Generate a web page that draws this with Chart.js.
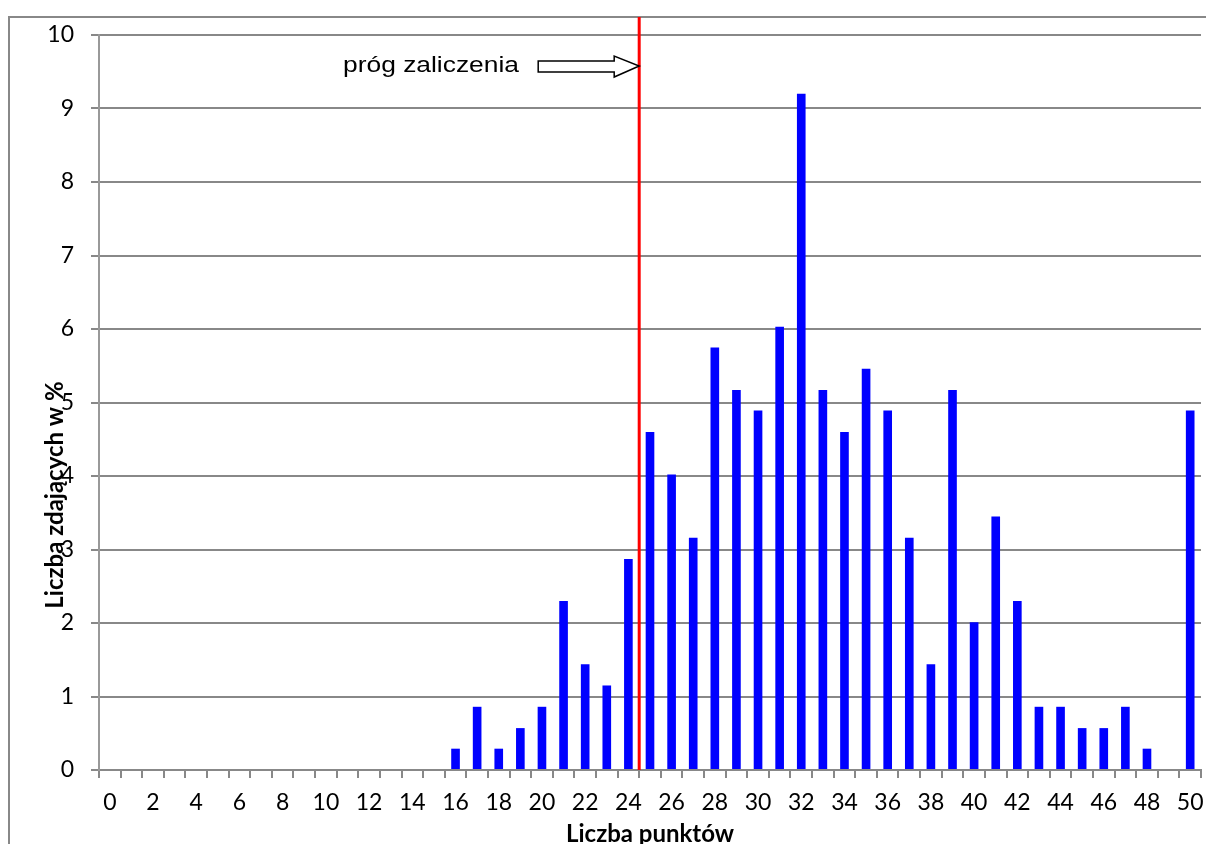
<!DOCTYPE html>
<html>
<head>
<meta charset="utf-8">
<script src="https://cdn.jsdelivr.net/npm/chart.js@4.4.1/dist/chart.umd.min.js"></script>
<style>
  html, body { margin: 0; padding: 0; background: #fff; }
  #wrap { width: 1206px; height: 844px; position: relative; }
</style>
</head>
<body>
<div id="wrap"><canvas id="chart"></canvas></div>
<script>
const scoreLabels = [
  '0', '1', '2', '3', '4', '5', '6', '7', '8', '9',
  '10', '11', '12', '13', '14', '15', '16', '17', '18', '19',
  '20', '21', '22', '23', '24', '25', '26', '27', '28', '29',
  '30', '31', '32', '33', '34', '35', '36', '37', '38', '39',
  '40', '41', '42', '43', '44', '45', '46', '47', '48', '49', '50'
]

const percentValues = [
  0, 0, 0, 0, 0, 0, 0, 0, 0, 0,
  0, 0, 0, 0, 0, 0, 0.29, 0.86, 0.29, 0.57,
  0.86, 2.30, 1.44, 1.15, 2.87, 4.60, 4.02, 3.16, 5.75, 5.17,
  4.89, 6.03, 9.20, 5.17, 4.60, 5.46, 4.89, 3.16, 1.44, 5.17,
  2.01, 3.45, 2.30, 0.86, 0.86, 0.57, 0.57, 0.86, 0.29, 0, 4.89
]

const thresholdScore = 24.5
const thresholdLabel = 'próg zaliczenia'
const xTitle = 'Liczba punktów'
const yTitle = 'Liczba zdających w %'

const tickFont = { family: 'Lato', size: 23 }

// frame, red threshold line, annotation arrow, rotated y title
const decorations = {
  id: 'decorations',
  beforeDraw (chart) {
    const ctx = chart.ctx
    ctx.save()
    ctx.strokeStyle = '#888'
    ctx.lineWidth = 2
    ctx.beginPath()
    ctx.moveTo(9, 844)
    ctx.lineTo(9, 17)
    ctx.lineTo(1206, 17)
    ctx.stroke()
    ctx.restore()
  },
  afterDatasetsDraw (chart) {
    const ctx = chart.ctx
    const x = chart.scales.x.getPixelForValue(thresholdScore)
    ctx.save()
    ctx.strokeStyle = '#ff0000'
    ctx.lineWidth = 3
    ctx.beginPath()
    ctx.moveTo(x, 17)
    ctx.lineTo(x, chart.chartArea.bottom)
    ctx.stroke()

    // arrow pointing at the threshold
    const ty = 66
    ctx.fillStyle = '#fff'
    ctx.strokeStyle = '#000'
    ctx.lineWidth = 1.5
    ctx.beginPath()
    ctx.moveTo(x - 101, ty - 5)
    ctx.lineTo(x - 25, ty - 5)
    ctx.lineTo(x - 25, ty - 10)
    ctx.lineTo(x, ty)
    ctx.lineTo(x - 25, ty + 11)
    ctx.lineTo(x - 25, ty + 6)
    ctx.lineTo(x - 101, ty + 6)
    ctx.closePath()
    ctx.fill()
    ctx.stroke()

    // label, stretched a little like the original
    ctx.font = '22px "Liberation Sans", Arial, sans-serif'
    const w = ctx.measureText(thresholdLabel).width
    ctx.translate(343, 72)
    ctx.scale(176 / w, 1)
    ctx.fillStyle = '#000'
    ctx.textBaseline = 'alphabetic'
    ctx.fillText(thresholdLabel, 0, 0)
    ctx.restore()
  },
  afterDraw (chart) {
    const ctx = chart.ctx
    ctx.save()
    ctx.translate(55, 495)
    ctx.rotate(-Math.PI / 2)
    ctx.font = 'bold 24px Lato, sans-serif'
    ctx.fillStyle = '#000'
    ctx.textAlign = 'center'
    ctx.textBaseline = 'middle'
    ctx.fillText(yTitle, 0, 0)
    ctx.restore()
  }
}

const config = {
  type: 'bar',
  data: {
    labels: scoreLabels,
    datasets: [{
      data: percentValues,
      backgroundColor: '#0000ff',
      borderWidth: 0,
      barPercentage: 0.4,
      categoryPercentage: 1
    }]
  },
  options: {
    responsive: true,
    maintainAspectRatio: false,
    animation: false,
    layout: { padding: { top: 35, right: 0, left: 0, bottom: 0 } },
    plugins: {
      legend: { display: false },
      tooltip: { enabled: false }
    },
    scales: {
      x: {
        offset: true,
        grid: {
          offset: true,
          drawOnChartArea: false,
          drawTicks: true,
          tickLength: 8,
          color: '#888',
          lineWidth: 2
        },
        border: { color: '#888', width: 2 },
        ticks: {
          autoSkip: false,
          maxRotation: 0,
          padding: 11,
          color: '#000',
          font: tickFont,
          callback: (val, i) => (i % 2 === 0 ? scoreLabels[i] : '')
        },
        title: {
          display: true,
          text: xTitle,
          color: '#000',
          font: { family: 'Lato', size: 24, weight: 'bold' },
          padding: { top: 0, bottom: -5 }
        },
        afterFit: s => {
          s.height = 74
          s.paddingLeft = 0
          s.paddingRight = 5
        }
      },
      y: {
        min: 0,
        max: 10,
        grid: {
          color: '#888',
          lineWidth: 2,
          tickLength: 8
        },
        border: { color: '#999', width: 2 },
        ticks: {
          stepSize: 1,
          padding: 17,
          color: '#000',
          font: tickFont
        },
        afterFit: s => { s.width = 99 }
      }
    }
  },
  plugins: [decorations]
}

new Chart(document.getElementById('chart'), config)
</script>
</body>
</html>
